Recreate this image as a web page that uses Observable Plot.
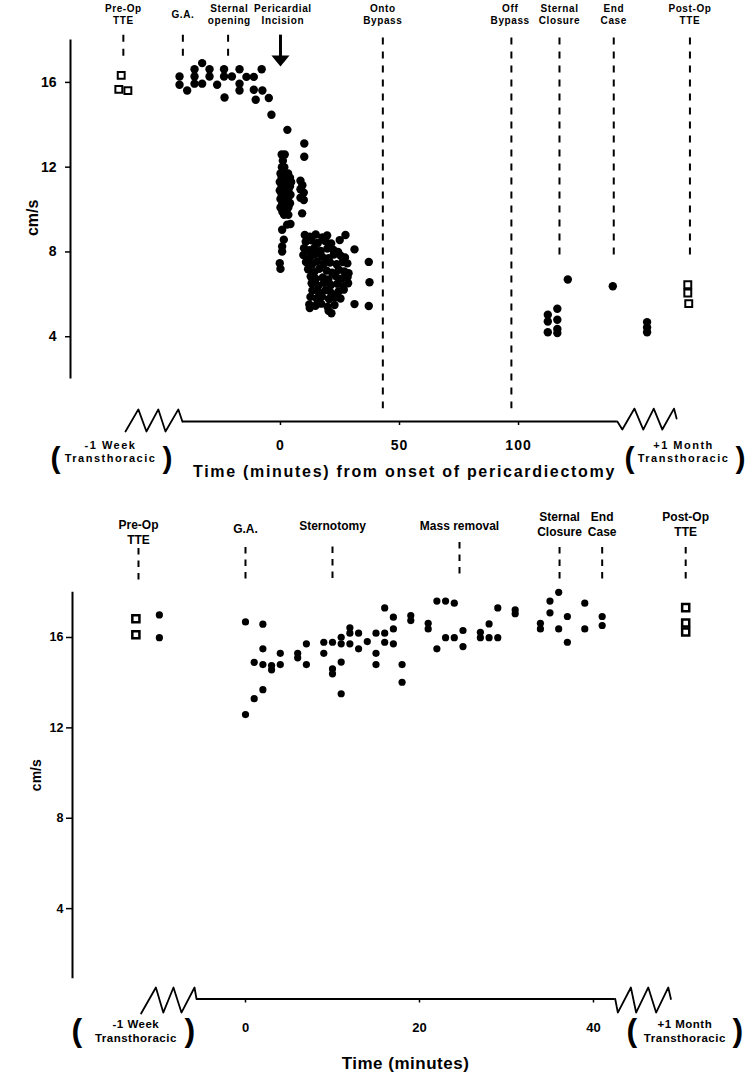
<!DOCTYPE html>
<html>
<head>
<meta charset="utf-8">
<script src="https://cdn.jsdelivr.net/npm/d3@7"></script>
<script src="https://cdn.jsdelivr.net/npm/@observablehq/plot@0.6"></script>
<style>
  html, body { margin: 0; padding: 0; background: #fff; }
  #chart { width: 751px; height: 1075px; overflow: hidden; }
  #chart svg { display: block; }
  .ls06 text { letter-spacing: 0.6px; }
  .ls1 text { letter-spacing: 1px; }
  .ls17 text { letter-spacing: 1.7px; }
  .ls15 text { letter-spacing: 1.5px; }
  .ls05 text { letter-spacing: 0.5px; }
</style>
</head>
<body>
<div id="chart"></div>
<script>
const FONT = "'Liberation Sans', Arial, Helvetica, sans-serif";

// ---------------- TOP PANEL DATA (minutes from onset of pericardiectomy, cm/s) ----------------
const topPreOpTTE = [[-66.9, 16.33], [-67.9, 15.67], [-64.1, 15.61]];
const topPostOpTTE = [[171.1, 6.45], [171.1, 6.06], [171.5, 5.56]];
const topBaseline = [
  [-42.4, 16.28], [-42.4, 15.89], [-39.2, 15.62], [-36.1, 16.62], [-36.1, 16.28], [-36.1, 15.94],
  [-32.9, 16.91], [-32.9, 15.94], [-29.8, 16.62], [-29.8, 16.28], [-26.6, 15.89], [-23.7, 16.62],
  [-23.7, 16.28], [-23.5, 15.29], [-20.4, 16.28], [-17.2, 16.62], [-17.2, 15.94], [-17.2, 15.62],
  [-14.3, 16.26], [-11.2, 16.26], [-11.2, 15.65], [-7.9, 16.62], [-7.6, 15.62], [-10.4, 15.18],
  [-4.9, 15.26], [-3.8, 14.47], [2.9, 13.76]
];
const topIncision = [
  [0.5, 12.6], [1.8, 12.6], [1.0, 12.3], [0.6, 12.0], [1.6, 12.0], [0, 11.7], [1.2, 11.7], [3.2, 11.7],
  [0.5, 11.5], [2.2, 11.5], [4.0, 11.5], [-0.3, 11.3], [1.5, 11.3], [3.0, 11.3], [4.5, 11.3],
  [0.5, 11.1], [2.5, 11.1], [4.0, 11.1], [-0.3, 10.9], [1.5, 10.9], [3.3, 10.9], [0.5, 10.7],
  [2.3, 10.7], [4.2, 10.7], [0, 10.5], [1.5, 10.5], [3.2, 10.5], [0.8, 10.3], [2.5, 10.3], [4.0, 10.3],
  [0, 10.1], [1.7, 10.1], [3.3, 10.1], [0.8, 9.9], [2.5, 9.9], [1.5, 9.75], [3.3, 9.75],
  [2.8, 9.29], [4.2, 9.32], [0.7, 9.05], [1.4, 8.58], [0.7, 8.26], [0.7, 8.02], [-0.3, 7.47], [0, 7.2]
];
const topDissection = [
  [10.0, 13.12], [10.0, 12.49], [8.4, 11.36], [9.2, 11.15], [8.4, 10.96], [9.8, 10.8],
  [8.4, 10.56], [9.8, 10.45], [9.1, 9.82]
];
const topPreBypass = [
  [10.2, 8.8], [12.3, 8.72], [14.8, 8.82], [17.6, 8.68], [19.6, 8.78], [27.3, 8.8],
  [10.6, 8.48], [13.1, 8.55], [15.7, 8.42], [18.8, 8.52], [21.3, 8.4], [24.9, 8.56],
  [9.9, 8.18], [12.2, 8.08], [14.3, 8.2], [16.9, 8.05], [19.7, 8.16], [22.2, 8.1], [24.2, 8.0], [31.1, 8.12],
  [9.6, 7.86], [12.4, 7.74], [14.6, 7.9], [17.5, 7.78], [20.2, 7.7], [22.4, 7.88], [25.3, 7.82], [27.1, 7.74],
  [10.7, 7.52], [13.2, 7.4], [15.3, 7.55], [18.2, 7.44], [20.8, 7.5], [23.6, 7.42], [26.2, 7.52], [28.1, 7.46], [37.1, 7.53],
  [11.6, 7.18], [14.2, 7.05], [16.3, 7.2], [19.4, 7.12], [21.7, 7.02], [24.5, 7.16], [26.8, 7.08], [28.6, 7.0],
  [12.7, 6.84], [14.9, 6.72], [17.8, 6.8], [20.1, 6.7], [23.2, 6.86], [25.7, 6.74], [28.2, 6.82],
  [13.1, 6.52], [15.9, 6.4], [18.3, 6.55], [21.2, 6.44], [23.9, 6.5], [26.4, 6.38], [28.4, 6.52], [37.4, 6.57],
  [13.4, 6.18], [16.1, 6.1], [19.0, 6.2], [21.3, 6.06], [24.4, 6.14], [26.6, 6.22],
  [12.6, 5.88], [15.2, 5.8], [17.4, 5.9], [20.4, 5.78], [22.8, 5.86], [25.2, 5.8],
  [12.1, 5.52], [14.7, 5.46], [17.1, 5.56], [19.8, 5.42], [22.7, 5.5], [31.1, 5.54], [37.1, 5.45],
  [12.3, 5.35], [20.2, 5.22], [21.4, 5.11]
];
const topPostBypass = [
  [112.3, 5.04], [112.3, 4.72], [112.3, 4.21], [116.3, 5.32], [116.3, 4.80], [116.3, 4.37],
  [116.3, 4.17], [120.7, 6.70], [139.6, 6.38], [154, 4.69], [154, 4.44], [154, 4.21]
];

const topEventLabels = ["Pre-Op\nTTE", "G.A.", "Sternal\nopening", "Pericardial\nIncision", "Onto\nBypass",
                        "Off\nBypass", "Sternal\nClosure", "End\nCase", "Post-Op\nTTE"];
const topEventTimes = [-66, -41, -21.5, 1, 43, 96.5, 117.2, 140, 172];
const topDashTimes = [-66, -41, -22, 43, 97, 117.2, 140, 172];
const topDashFrom = [18.23, 18.23, 18.23, 18.1, 18.1, 18.1, 18.1, 18.1];
const topDashTo = [17.15, 17.15, 17.15, 0.6, 0.6, 7.7, 7.7, 7.7];
const topIncisionTime = [0];
const topXTicks = [0, 50, 100];
const topYTicks = [4, 8, 12, 16];
const topAxisSpan = [-41.2, 141.5];
const topBreakLeft = [[-65.1, -0.47], [-59.7, 0.57], [-56.3, -0.47], [-51.3, 0.57], [-48.3, -0.47], [-42.9, 0.57], [-41.2, 0]];
const topBreakRight = [[141.5, 0], [143.6, -0.38], [148.7, 0.61], [152.4, -0.38], [156.8, 0.61], [160.4, -0.38], [165.3, 0.61], [166.4, 0.14]];
const topBreakLabels = ["-1 Week\nTransthoracic", "+1 Month\nTransthoracic"];
const topBreakLabelTimes = [-71.4, 169.3];
const topParens = ["(", ")", "(", ")"];
const topParenTimes = [-94.5, -47.5, 146.6, 193.2];

// ---------------- BOTTOM PANEL DATA (minutes, cm/s) ----------------
const botPreOpTTE = [[-12.6, 16.83], [-12.6, 16.12]];
const botPostOpTTE = [[50.6, 17.32], [50.6, 16.64], [50.6, 16.24]];
const botPreOpDots = [[-9.9, 17.0], [-9.9, 15.99]];
const botIntraOp = [
  [0, 16.69], [2, 16.59], [2, 15.5], [1, 14.9], [2, 14.8], [3, 14.76], [3, 14.57], [4, 15.3], [4, 14.8],
  [6, 15.3], [6, 15.1], [7, 15.72], [7, 14.8], [9, 15.79], [9, 15.3], [10, 15.79], [10, 14.61], [10, 14.39],
  [11, 16.01], [11, 15.72], [11, 14.91], [11, 13.51], [12, 16.43], [12, 16.19], [12, 15.72], [13, 16.19],
  [13, 15.5], [14, 15.82], [15, 16.19], [15, 15.3], [15, 14.8], [16, 17.31], [16, 16.19], [16, 15.79],
  [17, 16.9], [17, 16.38], [17, 15.72], [18, 14.8], [18, 14.02], [0, 12.59], [1, 13.29], [2, 13.69],
  [19, 16.97], [19, 16.75], [21, 16.63], [21, 16.38], [22, 17.61], [23, 17.61], [24, 17.52], [22, 15.5],
  [23, 15.99], [24, 15.99], [25, 16.31], [25, 15.6], [27, 16.23], [27, 15.99], [28, 16.6], [28, 15.99],
  [29, 17.31], [29, 15.99], [31, 17.22], [31, 17.05], [33.9, 16.63], [33.9, 16.38], [35, 17.61], [35, 17.09],
  [36, 18.0], [36, 16.38], [37, 16.93], [37, 15.79], [39, 17.52], [39, 16.38], [41, 16.93], [41, 16.53]
];
const botEventLabels = ["Pre-Op\nTTE", "G.A.", "Sternotomy", "Mass removal", "Sternal\nClosure", "End\nCase", "Post-Op\nTTE"];
const botEventTimes = [-12.3, 0, 10, 24.6, 36.1, 41, 50.6];
const botDashFrom = [19.94, 19.98, 20.0, 20.2, 19.98, 19.98, 19.98];
const botDashTo = [18.39, 18.39, 18.43, 18.65, 18.39, 18.39, 18.39];
const botXTicks = [0, 20, 40];
const botYTicks = [4, 8, 12, 16];
const botAxisSpan = [-5.63, 42.5];
const botBreakLeft = [[-12.0, -0.64], [-10.3, 0.51], [-9.45, -0.6], [-8.28, 0.51], [-7.36, -0.6], [-5.86, 0.51], [-5.63, 0]];
const botBreakRight = [[42.5, 0], [42.8, -0.6], [44.3, 0.51], [44.9, -0.6], [46.3, 0.51], [47.2, -0.6], [48.6, 0.51], [48.9, 0]];
const botBreakLabels = ["-1 Week\nTransthoracic", "+1 Month\nTransthoracic"];
const botBreakLabelTimes = [-12.6, 50.5];
const botParens = ["(", ")", "(", ")"];
const botParenTimes = [-19.4, -6.4, 44.4, 56.6];

const px = d => d[0], py = d => d[1];

// flat, downward-pointing arrowhead symbol
const arrowHead = {
  draw(ctx, size) {
    const s = Math.sqrt(size), hw = 0.85 * s, h = 1.03 * s;
    ctx.moveTo(-hw, -h / 2);
    ctx.lineTo(hw, -h / 2);
    ctx.lineTo(0, h / 2);
    ctx.closePath();
  }
};

// ---------------- TOP PLOT ----------------
const topXDomain = [-88.2, 192.4];
const topPlot = Plot.plot({
  width: 751, height: 480,
  marginTop: 39.5, marginBottom: 59, marginLeft: 70, marginRight: 13,
  x: {domain: topXDomain},
  y: {domain: [0, 18]},
  style: {fontFamily: FONT, color: "black", background: "white"},
  marks: [
    Plot.ruleX([topXDomain[0]], {y1: 2, y2: 18, strokeWidth: 2}),
    Plot.axisY({ticks: topYTicks, tickSize: 5, tickPadding: 9, fontSize: 14, fontWeight: "bold", label: null, strokeWidth: 1.5}),
    Plot.axisX({ticks: topXTicks, tickSize: 4, tickPadding: 15, fontSize: 14, fontWeight: "bold", label: null, strokeWidth: 1.5, className: "ls1"}),
    Plot.ruleY([0], {x1: topAxisSpan[0], x2: topAxisSpan[1], strokeWidth: 2}),
    Plot.line(topBreakLeft, {x: px, y: py, strokeWidth: 1.8}),
    Plot.line(topBreakRight, {x: px, y: py, strokeWidth: 1.8}),
    Plot.ruleX(topDashTimes, {x: topDashTimes, y1: topDashFrom, y2: topDashTo, strokeWidth: 2, strokeDasharray: "7,7"}),
    Plot.ruleX(topIncisionTime, {x: d => d, y1: 18.23, y2: 17.2, strokeWidth: 3}),
    Plot.dot(topIncisionTime, {x: d => d, y: 17.01, symbol: arrowHead, r: 6, fill: "black"}),
    Plot.dot(topBaseline, {x: px, y: py, r: 4.2, fill: "black"}),
    Plot.dot(topIncision, {x: px, y: py, r: 4.2, fill: "black"}),
    Plot.dot(topDissection, {x: px, y: py, r: 4.2, fill: "black"}),
    Plot.dot(topPreBypass, {x: px, y: py, r: 4.2, fill: "black"}),
    Plot.dot(topPostBypass, {x: px, y: py, r: 4.2, fill: "black"}),
    Plot.dot(topPreOpTTE.concat(topPostOpTTE), {x: px, y: py, symbol: "square", r: 3.9, fill: "white", stroke: "black", strokeWidth: 2}),
    Plot.text(topEventTimes, {x: topEventTimes, text: topEventLabels, frameAnchor: "top", dy: -25.5, lineAnchor: "middle",
      lineHeight: 1.2, fontSize: 10, fontWeight: "bold", className: "ls06"}),
    Plot.text(topBreakLabelTimes, {x: topBreakLabelTimes, text: topBreakLabels, frameAnchor: "bottom", dy: 30, lineAnchor: "middle",
      lineHeight: 1.15, fontSize: 11, fontWeight: "bold", className: "ls15"}),
    Plot.text(topParenTimes, {x: topParenTimes, text: topParens, frameAnchor: "bottom", dy: 37, lineAnchor: "middle",
      fontSize: 30, fontWeight: "bold"}),
    Plot.text(["Time (minutes) from onset of pericardiectomy"], {text: d => d, frameAnchor: "bottom", dy: 50, lineAnchor: "middle",
      fontSize: 16, fontWeight: "bold", className: "ls17"}),
    Plot.text(["cm/s"], {text: d => d, y: 8.75, frameAnchor: "left", dx: -38, rotate: -90, lineAnchor: "middle",
      fontSize: 16, fontWeight: "bold"})
  ]
});

// ---------------- BOTTOM PLOT ----------------
const botXDomain = [-19.885, 56.67];
const botLabel = (idx, dy) => Plot.text(idx.map(i => botEventTimes[i]), {
  x: idx.map(i => botEventTimes[i]), text: idx.map(i => botEventLabels[i]), frameAnchor: "top", dy,
  lineAnchor: "middle", lineHeight: 1.2, fontSize: 12, fontWeight: "bold"
});
const botPlot = Plot.plot({
  width: 751, height: 595,
  marginTop: 111.8, marginBottom: 76.5, marginLeft: 72, marginRight: 13,
  x: {domain: botXDomain},
  y: {domain: [0, 18]},
  style: {fontFamily: FONT, color: "black", background: "white"},
  marks: [
    Plot.ruleX([botXDomain[0]], {y1: 0.9, y2: 18, strokeWidth: 2}),
    Plot.axisY({ticks: botYTicks, tickSize: 6, tickPadding: 3, fontSize: 12.5, fontWeight: "bold", label: null, strokeWidth: 1.5}),
    Plot.axisX({ticks: botXTicks, tickSize: 4, tickPadding: 20, fontSize: 13, fontWeight: "bold", label: null, strokeWidth: 1.5}),
    Plot.ruleY([0], {x1: botAxisSpan[0], x2: botAxisSpan[1], strokeWidth: 2}),
    Plot.line(botBreakLeft, {x: px, y: py, strokeWidth: 1.8}),
    Plot.line(botBreakRight, {x: px, y: py, strokeWidth: 1.8}),
    Plot.ruleX(botEventTimes, {x: botEventTimes, y1: botDashFrom, y2: botDashTo, strokeWidth: 2, strokeDasharray: "6.5,6"}),
    Plot.dot(botPreOpDots, {x: px, y: py, r: 3.6, fill: "black"}),
    Plot.dot(botIntraOp, {x: px, y: py, r: 3.6, fill: "black"}),
    Plot.dot(botPreOpTTE.concat(botPostOpTTE), {x: px, y: py, symbol: "square", r: 4, fill: "white", stroke: "black", strokeWidth: 2.5}),
    botLabel([0], -60.3),
    botLabel([1], -63.8),
    botLabel([2, 3], -66.8),
    botLabel([4, 5, 6], -68.5),
    Plot.text(botBreakLabelTimes, {x: botBreakLabelTimes, text: botBreakLabels, frameAnchor: "bottom", dy: 31.5, lineAnchor: "middle",
      lineHeight: 1.2, fontSize: 11.5, fontWeight: "bold", className: "ls05"}),
    Plot.text(botParenTimes, {x: botParenTimes, text: botParens, frameAnchor: "bottom", dy: 31.5, lineAnchor: "middle",
      fontSize: 32, fontWeight: "bold"}),
    Plot.text(["Time (minutes)"], {text: d => d, frameAnchor: "bottom", dy: 64.5, lineAnchor: "middle",
      fontSize: 17, fontWeight: "bold", className: "ls05"}),
    Plot.text(["cm/s"], {text: d => d, y: 9.2, frameAnchor: "left", dx: -36, rotate: -90, lineAnchor: "middle",
      fontSize: 14, fontWeight: "bold"})
  ]
});

const chart = document.getElementById("chart");
chart.appendChild(topPlot);
chart.appendChild(botPlot);
</script>
</body>
</html>
